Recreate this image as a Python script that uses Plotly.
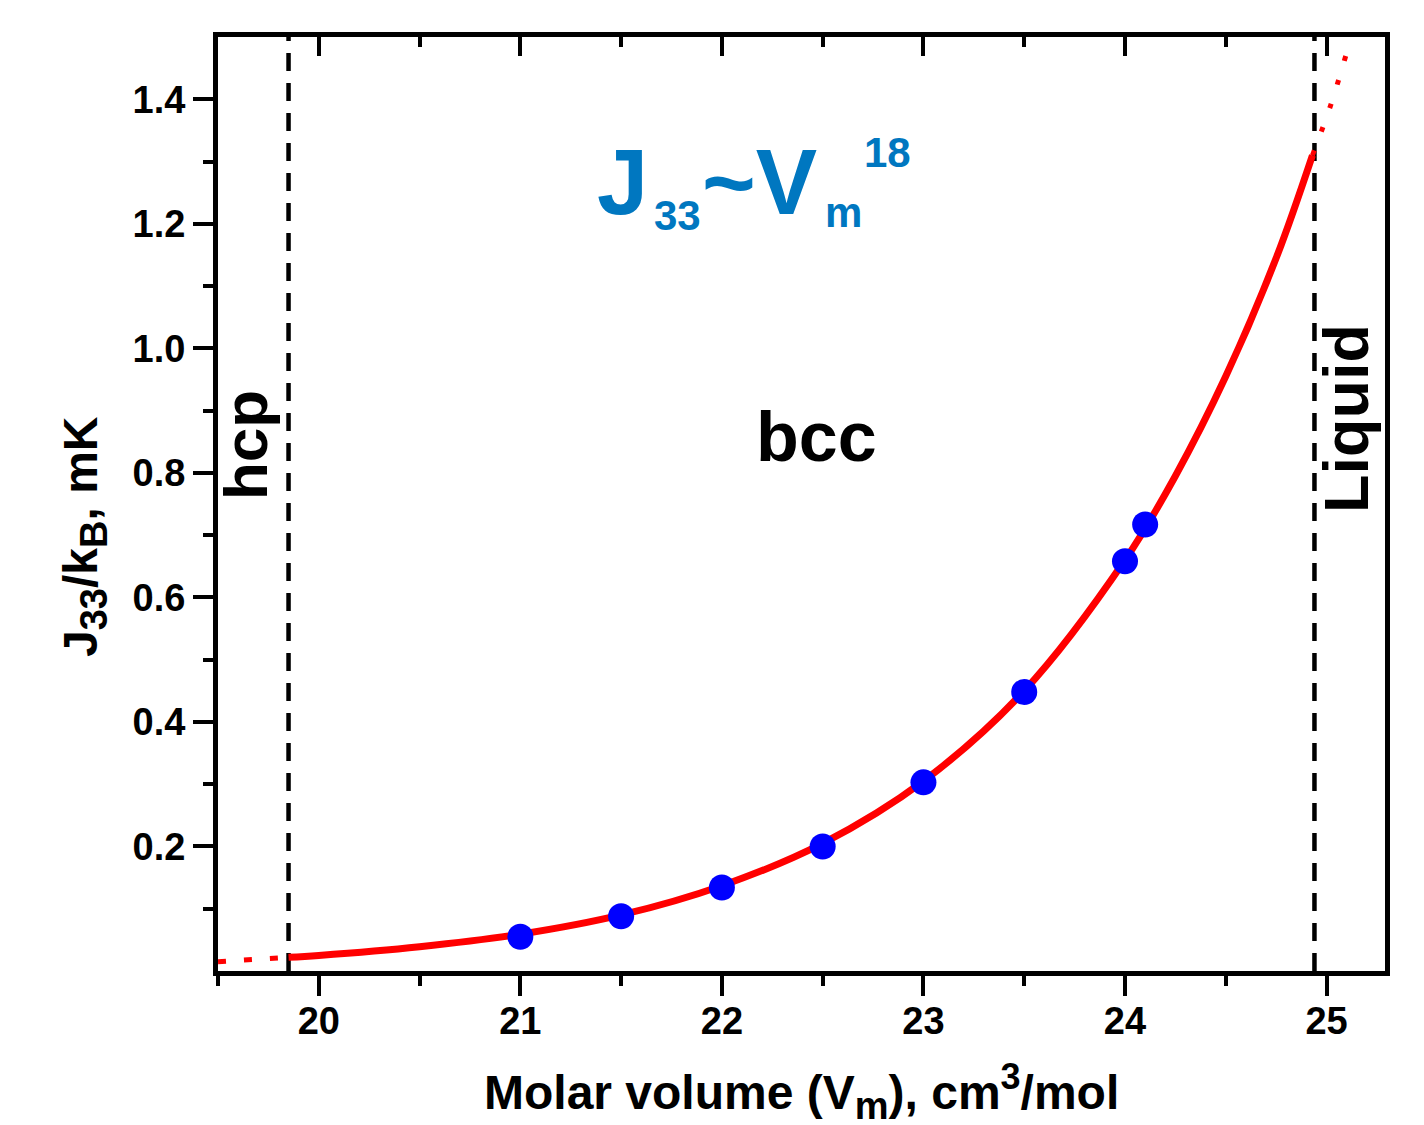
import plotly.graph_objects as go

# ---- data ----
vm_points = [21.0, 21.5, 22.0, 22.5, 23.0, 23.5, 24.0, 24.1]
j33_points = [0.055, 0.088, 0.134, 0.200, 0.303, 0.448, 0.658, 0.717]

# fitted curve J33 ~ Vm^18
fit_vm = [19.85, 20.0, 20.5, 21.0, 21.5, 22.0, 22.5, 23.0, 23.5, 24.0, 24.25, 24.5, 24.75, 24.93]
fit_j33 = [0.022, 0.025, 0.039, 0.059, 0.090, 0.137, 0.205, 0.305, 0.450, 0.660, 0.795, 0.955, 1.145, 1.31]

# dotted extrapolations outside the bcc range
ext_left_vm = [19.5, 19.85]
ext_left_j33 = [0.015, 0.022]
ext_right_vm = [24.93, 25.02, 25.1]
ext_right_j33 = [1.31, 1.39, 1.475]

# phase boundaries (hcp|bcc, bcc|liquid)
phase_bounds = [19.85, 24.94]

x_ticks = [20, 21, 22, 23, 24, 25]
x_minor = [19.5, 20.5, 21.5, 22.5, 23.5, 24.5]
y_ticks = [0.2, 0.4, 0.6, 0.8, 1.0, 1.2, 1.4]
y_tick_text = ["0.2", "0.4", "0.6", "0.8", "1.0", "1.2", "1.4"]
y_minor = [0.1, 0.3, 0.5, 0.7, 0.9, 1.1, 1.3]

X_RANGE = [19.5, 25.29]
Y_RANGE = [0.0, 1.5]

# ---- figure geometry (page has an 8px body margin) ----
OFF = 8
W, H = 1424 - OFF, 1125 - OFF
L, R, T, B = 218 - OFF, 39, 37 - OFF, 154
PW, PH = W - L - R, H - T - B


def px(xp):
    return (xp - OFF - L) / PW


def py(yp):
    return (H - B - (yp - OFF)) / PH


FONT = "Liberation Sans, Arial, sans-serif"
RED = "#FF0000"
BLUE_TXT = "#0077C0"

fig = go.Figure()

# phase boundary dashed lines
for xb in phase_bounds:
    fig.add_trace(go.Scatter(
        x=[xb, xb], y=Y_RANGE, mode="lines",
        line=dict(color="black", width=4.5, dash="18px,12px"),
        hoverinfo="skip", showlegend=False))

# dotted extrapolations
fig.add_trace(go.Scatter(
    x=ext_left_vm, y=ext_left_j33, mode="lines",
    line=dict(color=RED, width=5, dash="8px,18px"), showlegend=False))
fig.add_trace(go.Scatter(
    x=ext_right_vm, y=ext_right_j33, mode="lines", line_shape="spline",
    line=dict(color=RED, width=5, dash="5px,20px"), showlegend=False))

# fitted curve
fig.add_trace(go.Scatter(
    x=fit_vm, y=fit_j33, mode="lines", line_shape="spline",
    line=dict(color=RED, width=7), showlegend=False))

# data points
fig.add_trace(go.Scatter(
    x=vm_points, y=j33_points, mode="markers",
    marker=dict(color="#0000FF", size=26, line=dict(width=0)),
    showlegend=False))

# invisible trace on top axis
fig.add_trace(go.Scatter(x=X_RANGE, y=Y_RANGE, xaxis="x2", mode="none",
                         showlegend=False, hoverinfo="skip"))

tickfont = dict(family=FONT, size=38, color="black", weight="bold")

fig.update_layout(
    width=W, height=H,
    margin=dict(l=L, r=R, t=T, b=B, pad=0),
    paper_bgcolor="white", plot_bgcolor="white",
    xaxis=dict(
        range=X_RANGE, showgrid=False, zeroline=False,
        showline=True, linecolor="black", linewidth=5, mirror=False,
        tickmode="array", tickvals=x_ticks, ticktext=[str(v) for v in x_ticks],
        ticks="outside", ticklen=20, tickwidth=4, tickcolor="black",
        tickfont=tickfont, ticklabelstandoff=-8,
        minor=dict(tickmode="array", tickvals=x_minor, ticks="outside",
                   ticklen=10, tickwidth=4, tickcolor="black", showgrid=False),
    ),
    xaxis2=dict(
        range=X_RANGE, overlaying="x", side="top", showgrid=False,
        zeroline=False, showline=True, linecolor="black", linewidth=5,
        tickmode="array", tickvals=x_ticks, showticklabels=False,
        ticks="inside", ticklen=19, tickwidth=4, tickcolor="black",
        minor=dict(tickmode="array", tickvals=x_minor, ticks="inside",
                   ticklen=10, tickwidth=4, tickcolor="black", showgrid=False),
    ),
    yaxis=dict(
        range=Y_RANGE, showgrid=False, zeroline=False,
        showline=True, linecolor="black", linewidth=5, mirror=True,
        tickmode="array", tickvals=y_ticks, ticktext=y_tick_text,
        ticks="outside", ticklen=20, tickwidth=4, tickcolor="black",
        tickfont=tickfont,
        minor=dict(tickmode="array", tickvals=y_minor, ticks="outside",
                   ticklen=10, tickwidth=4, tickcolor="black", showgrid=False),
    ),
)

ann = []


def add_text(text, xp, yp, size, color="black", angle=0, xanchor="center"):
    ann.append(dict(
        text=text, x=px(xp), y=py(yp), xref="paper", yref="paper",
        xanchor=xanchor, yanchor="middle", showarrow=False, textangle=angle,
        font=dict(family=FONT, size=size, color=color, weight="bold")))


# blue power-law label
add_text("J", 622, 182, 92, BLUE_TXT)
add_text("33", 677, 215, 42, BLUE_TXT)
add_text("~V", 759, 182, 92, BLUE_TXT)
add_text("m", 843, 213, 42, BLUE_TXT)
add_text("18", 887, 152, 42, BLUE_TXT)

# phase labels
add_text("bcc", 816, 437, 70)
add_text("hcp", 246, 445, 62, angle=-90)
add_text("Liquid", 1346, 419, 63, angle=-90)

# axis titles
add_text("Molar volume (V<sub><span style='font-size:38px'>m</span></sub>), "
         "cm<sup><span style='font-size:36px'>3</span></sup>/mol", 801, 1091, 48)
add_text("J<sub><span style='font-size:38px'>33</span></sub>/k"
         "<sub><span style='font-size:38px'>B</span></sub>, mK", 84, 537, 48, angle=-90)

fig.update_layout(annotations=ann)

fig.write_html("out.html")
